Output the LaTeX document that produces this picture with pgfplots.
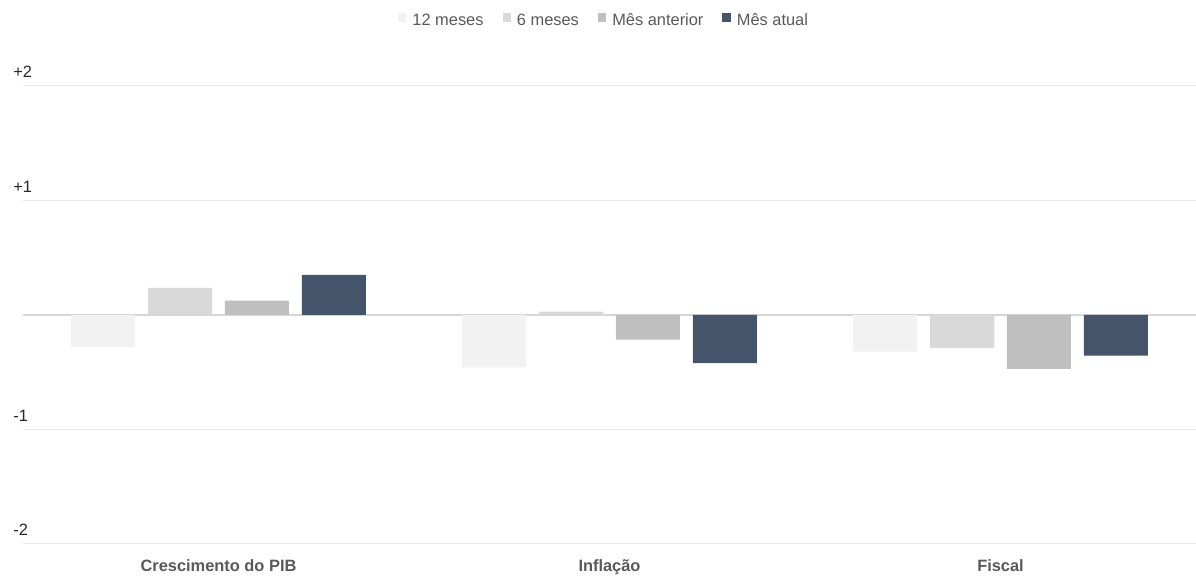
\documentclass[border=0pt]{standalone}
\usepackage{fontspec}
\setmainfont{Liberation Sans}
\usepackage{pgfplots}
\pgfplotsset{compat=1.18}

\definecolor{c12}{HTML}{F2F2F2}
\definecolor{c6}{HTML}{D9D9D9}
\definecolor{cant}{HTML}{BFBFBF}
\definecolor{catual}{HTML}{44546A}
\definecolor{gridc}{HTML}{E8E8E8}
\definecolor{zeroc}{HTML}{D6D6D6}
\definecolor{labc}{HTML}{595959}

\newcommand{\chartfont}{\fontsize{8.2}{10}\selectfont}

\begin{document}
\begin{tikzpicture}
\begin{axis}[
  name=ax,
  scale only axis,
  width=586.5pt, height=229pt,
  xmin=-0.5, xmax=2.5, ymin=-2, ymax=2,
  axis line style={draw=none},
  major tick length=0pt,
  xtick={0,1,2},
  xticklabels={Crescimento do PIB, Inflação, Fiscal},
  ytick={-2,-1,1,2},
  yticklabels={-2,-1,+1,+2},
  extra y ticks={0},
  extra y tick labels={},
  extra y tick style={grid style={draw=zeroc, line width=0.6pt}},
  ymajorgrids,
  grid style={draw=gridc, line width=0.5pt},
  x tick label style={font=\chartfont\bfseries, text=labc, anchor=base, yshift=-14pt, inner sep=0pt},
  y tick label style={font=\chartfont, text=black!85, anchor=base west, xshift=-5pt, yshift=4pt, inner sep=0pt},
  legend columns=4,
  legend style={
    draw=none, fill=none,
    at={(0.5,1)}, anchor=center, xshift=-3.25pt, yshift=32.5pt,
    font=\chartfont, text=labc,
    inner sep=0pt,
    nodes={inner sep=0pt},
    /tikz/column sep=3pt,
    /tikz/every even column/.append style={column sep=9.5pt},
  },
  legend image code/.code={\fill[#1] (0pt,-0.2pt) rectangle (4.2pt,4pt);},
]
% 12 meses
\addplot[ybar, bar width=0.164, bar shift=-0.295, fill=c12, draw=none]
  coordinates {(0,-0.28) (1,-0.457) (2,-0.32)};
% 6 meses
\addplot[ybar, bar width=0.164, bar shift=-0.098, fill=c6, draw=none]
  coordinates {(0,0.236) (1,0.03) (2,-0.29)};
% Mes anterior
\addplot[ybar, bar width=0.164, bar shift=0.098, fill=cant, draw=none]
  coordinates {(0,0.125) (1,-0.215) (2,-0.47)};
% Mes atual
\addplot[ybar, bar width=0.164, bar shift=0.295, fill=catual, draw=none]
  coordinates {(0,0.35) (1,-0.42) (2,-0.355)};
\legend{12 meses, 6 meses, Mês anterior, Mês atual}
\end{axis}
\pgfresetboundingbox
\path ([xshift=-11.5pt, yshift=-16pt]ax.south west) rectangle ([yshift=43pt]ax.north east);
\end{tikzpicture}
\end{document}
